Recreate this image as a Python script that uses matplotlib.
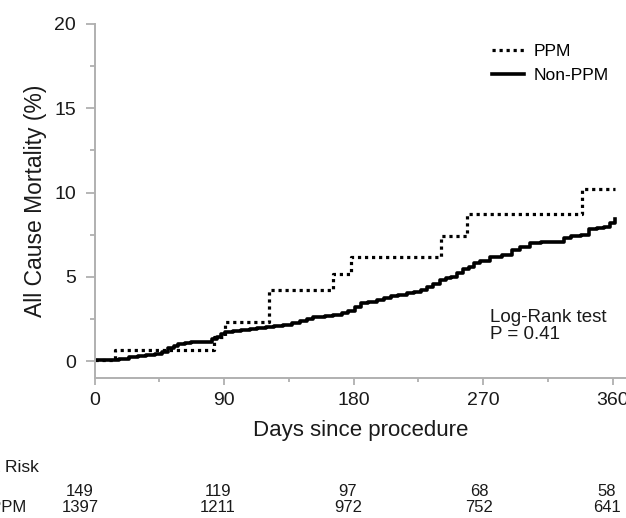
import matplotlib
matplotlib.use("Agg")
import matplotlib.pyplot as plt
from matplotlib.ticker import MultipleLocator

plt.rcParams['font.family'] = ['Liberation Sans', 'DejaVu Sans']

# PPM group (step points, days / cumulative mortality %)
ppm_days = [0, 14, 83, 91, 121, 166, 178, 241, 259, 339, 362]
ppm_vals = [0.05, 0.67, 1.45, 2.34, 4.22, 5.18, 6.15, 7.44, 8.75, 10.23, 10.23]

# Non-PPM group
non_days = [0, 17, 24, 30, 36, 42, 47, 51, 55, 58, 63, 67, 82, 85, 88, 91,
            96, 102, 108, 113, 119, 125, 131, 137, 143, 148, 152, 160, 166,
            172, 176, 181, 185, 190, 196, 201, 206, 211, 217, 222, 227, 231,
            235, 240, 244, 248, 252, 256, 260, 264, 268, 275, 283, 290, 296,
            303, 310, 318, 326, 331, 338, 344, 349, 354, 358, 362]
non_vals = [0.05, 0.15, 0.22, 0.30, 0.36, 0.44, 0.52, 0.75, 0.92, 1.0, 1.08,
            1.15, 1.30, 1.45, 1.60, 1.70, 1.76, 1.84, 1.88, 1.94, 2.0, 2.08,
            2.15, 2.24, 2.40, 2.50, 2.60, 2.66, 2.74, 2.85, 2.99, 3.20, 3.43,
            3.50, 3.63, 3.75, 3.88, 3.95, 4.02, 4.12, 4.25, 4.40, 4.55, 4.80,
            4.92, 5.02, 5.20, 5.46, 5.60, 5.80, 5.95, 6.20, 6.31, 6.60, 6.75,
            7.00, 7.04, 7.06, 7.30, 7.42, 7.50, 7.85, 7.92, 7.98, 8.20, 8.43]

# number at risk
risk_days = [0, 90, 180, 270, 360]
risk_ppm = [149, 119, 97, 68, 58]
risk_non = [1397, 1211, 972, 752, 641]

W, H = 626, 518
fig = plt.figure(figsize=(W / 100, H / 100), dpi=100)
ax = fig.add_axes([94.5 / W, 1 - 378 / H, 1 - 94.5 / W, (378 - 24) / H])

ax.step(ppm_days, ppm_vals, where='post', color='black', lw=2.3,
        linestyle=(0, (1, 1.2)), label='PPM')
ax.step(non_days, non_vals, where='post', color='black', lw=2.6,
        label='Non-PPM')

ax.set_xlim(0, (W - 94.5) / 1.4389)
ax.set_ylim(-1, 20)
ax.set_xticks(risk_days)
ax.set_yticks([0, 5, 10, 15, 20])
ax.xaxis.set_minor_locator(MultipleLocator(45))
ax.yaxis.set_minor_locator(MultipleLocator(2.5))

for s in ['top', 'right']:
    ax.spines[s].set_visible(False)
for s in ['left', 'bottom']:
    ax.spines[s].set_color('#b0b0b0')
    ax.spines[s].set_linewidth(1.4)

ax.tick_params(which='both', direction='out', color='#b0b0b0', width=1.3,
               labelsize=14, labelcolor='#1a1a1a')
ax.tick_params(axis='y', which='major', length=6.5, pad=7)
ax.tick_params(axis='y', which='minor', length=3.5)
ax.tick_params(axis='x', which='major', length=5, pad=5)
ax.tick_params(axis='x', which='minor', length=3)

ax.set_xlabel('Days since procedure', fontsize=16, color='#1a1a1a', labelpad=8)
ax.set_ylabel('All Cause Mortality (%)', fontsize=16.5, color='#1a1a1a', labelpad=5)

ax.legend(loc='upper left', bbox_to_anchor=(492 / W, 1 - 44 / H),
          bbox_transform=fig.transFigure, frameon=False, fontsize=12.5,
          handlelength=1.85, handletextpad=0.55, labelspacing=0.5,
          borderpad=0, borderaxespad=0)

ax.text(490 / W, 1 - 326 / H, 'Log-Rank test\nP = 0.41', transform=fig.transFigure,
        fontsize=13.5, color='#1a1a1a', va='center', ha='left', linespacing=1.05)

# number at risk table
risk_px = [80, 218, 348, 479, 607]
fig.text(39 / W, 1 - 467 / H, 'Number at Risk', ha='right', va='center',
         fontsize=12.5, color='#1a1a1a')
fig.text(27 / W, 1 - 507 / H, 'Non-PPM', ha='right', va='center',
         fontsize=12, color='#1a1a1a')
fig.text(-30 / W, 1 - 493 / H, 'PPM', ha='right', va='center',
         fontsize=12, color='#1a1a1a')
for px, a, b in zip(risk_px, risk_ppm, risk_non):
    fig.text(px / W, 1 - 492 / H, str(a), ha='center', va='center',
             fontsize=12, color='#1a1a1a')
    fig.text(px / W, 1 - 507 / H, str(b), ha='center', va='center',
             fontsize=12, color='#1a1a1a')

fig.savefig('out.png', dpi=100)
